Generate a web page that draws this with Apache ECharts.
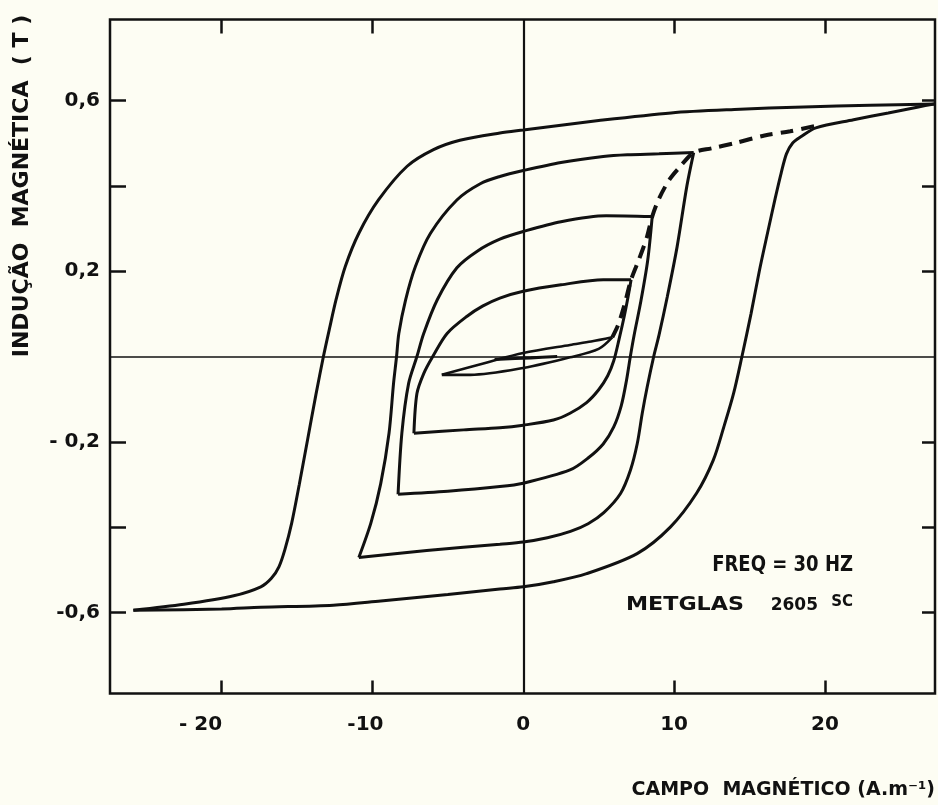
<!DOCTYPE html>
<html>
<head>
<meta charset="utf-8">
<script src="https://cdn.jsdelivr.net/npm/echarts@6/dist/echarts.min.js"></script>
<style>
  html, body { margin: 0; padding: 0; background: #fdfdf3; }
  #chart { width: 938px; height: 805px; }
</style>
</head>
<body>
<div id="chart"></div>
<script>
// ---- axis ticks / labels ----
const xLabelValues = [-20, -10, 0, 10, 20];
const xTickLabels = ['- 20', '-10', '0', '10', '20'];
const xTickValues = [-20, -10, 10, 20];
const yTickValues = [-0.6, -0.4, -0.2, 0.2, 0.4, 0.6];
const yLabelValues = [-0.6, -0.2, 0.2, 0.6];
const yTickLabels = ['-0,6', '- 0,2', '0,2', '0,6'];

// ---- hysteresis loops (H in A/m, B in T) ----
const outerDescending = [[27.25,0.592],[23,0.589],[18.6,0.585],[14,0.579],[9.8,0.571],[5,0.553],[0,0.531],[-1.55,0.524],[-4.2,0.507],[-5.95,0.485],[-7.7,0.446],[-9.6,0.367],[-10.9,0.289],[-11.8,0.211],[-12.4,0.135],[-12.85,0.065],[-13.25,0.0],[-13.75,-0.09],[-14.3,-0.195],[-14.85,-0.3],[-15.35,-0.39],[-15.8,-0.452],[-16.2,-0.493],[-16.7,-0.52],[-17.4,-0.54],[-19.2,-0.561],[-22.5,-0.581],[-25.85,-0.595]];
const outerAscending = [[-25.85,-0.595],[-20,-0.592],[-17.4,-0.588],[-12.6,-0.583],[-9.45,-0.573],[-5,-0.558],[-1.55,-0.545],[0,-0.54],[2,-0.528],[4.2,-0.509],[7.55,-0.462],[9.75,-0.40],[11.5,-0.32],[12.6,-0.243],[13.3,-0.165],[13.95,-0.086],[14.5,0.0],[15.1,0.1],[15.65,0.2],[16.2,0.29],[16.7,0.37],[17.1,0.43],[17.45,0.475],[17.85,0.5],[18.4,0.515],[19.4,0.536],[21.9,0.555],[24.2,0.571],[26.2,0.585],[27.25,0.592]];

const loop2Descending = [[11.3,0.478],[9,0.475],[6.9,0.473],[5.3,0.469],[2.5,0.455],[0,0.436],[-1.55,0.422],[-2.85,0.405],[-4.4,0.367],[-6.15,0.289],[-7.15,0.211],[-7.8,0.133],[-8.25,0.054],[-8.4,0.0],[-8.6,-0.063],[-8.9,-0.18],[-9.45,-0.298],[-10.1,-0.39],[-10.9,-0.471]];
const loop2Ascending = [[-10.9,-0.471],[-6.4,-0.455],[-1.55,-0.44],[0,-0.435],[1.6,-0.425],[3.13,-0.41],[4.3,-0.392],[5.34,-0.366],[6.45,-0.321],[7.11,-0.266],[7.56,-0.204],[7.89,-0.133],[8.22,-0.071],[8.65,0.0],[9.0,0.05],[9.55,0.14],[10.2,0.257],[10.85,0.40],[11.3,0.478]];

const loop3Descending = [[8.55,0.328],[5.5,0.33],[2.5,0.316],[0,0.293],[-1.55,0.275],[-3.05,0.247],[-4.4,0.208],[-5.7,0.133],[-6.6,0.054],[-7.05,0.0],[-7.6,-0.063],[-8.05,-0.18],[-8.3,-0.323]];
const loop3Ascending = [[-8.3,-0.323],[-5,-0.316],[-1.55,-0.305],[0,-0.297],[3.1,-0.266],[4.3,-0.238],[5.3,-0.205],[6.0,-0.165],[6.5,-0.115],[6.85,-0.055],[7.1,0.0],[7.35,0.05],[7.8,0.13],[8.25,0.225],[8.55,0.328]];

const loop4Descending = [[7.15,0.18],[5.3,0.18],[2.5,0.168],[0,0.153],[-1.55,0.137],[-2.7,0.118],[-3.7,0.095],[-5.05,0.054],[-6.0,0.0],[-6.6,-0.04],[-7.05,-0.087],[-7.25,-0.18]];
const loop4Ascending = [[-7.25,-0.18],[-3.95,-0.172],[-1.55,-0.167],[0,-0.161],[2.0,-0.149],[3.1,-0.133],[4.2,-0.108],[5.0,-0.078],[5.6,-0.045],[6.0,-0.01],[6.35,0.04],[6.7,0.095],[6.95,0.14],[7.15,0.18]];

const loop5Descending = [[5.9,0.045],[4.5,0.035],[3.1,0.027],[0,0.008],[-2.4,-0.014],[-5.4,-0.043]];
const loop5Ascending = [[-5.4,-0.043],[-3.5,-0.043],[0,-0.027],[3.1,-0.002],[5.0,0.018],[5.9,0.045]];
const loop6 = [[-1.9,-0.007],[0.5,-0.003],[2.25,0.0]];

const initialCurve = [[5.9,0.045],[6.3,0.075],[6.7,0.12],[7.15,0.18],[7.7,0.23],[8.2,0.28],[8.55,0.328],[9.0,0.37],[9.7,0.415],[10.4,0.445],[11.3,0.478],[12.5,0.488],[14,0.5],[16,0.518],[17.7,0.528],[19.4,0.541]];

// ---- chart ----
const INK = '#111111';
const FONT = 'DejaVu Sans';
const chart = echarts.init(document.getElementById('chart'), null, { renderer: 'canvas' });

function branch(data, width) {
  return {
    type: 'line', data: data, smooth: 0.3, symbol: 'none', showSymbol: false,
    lineStyle: { color: INK, width: width || 3 }, silent: true, z: 3
  };
}

const series = [
  branch(outerDescending), branch(outerAscending),
  branch(loop2Descending), branch(loop2Ascending),
  branch(loop3Descending), branch(loop3Ascending),
  branch(loop4Descending), branch(loop4Ascending),
  branch(loop5Descending, 2.6), branch(loop5Ascending, 2.6),
  branch(loop6, 3.2),
  {
    type: 'line', data: initialCurve, smooth: 0.3, symbol: 'none', silent: true, z: 2,
    lineStyle: { color: INK, width: 4, type: [13, 8] }
  }
];
series[0].markLine = {
  silent: true, symbol: ['none', 'none'], label: { show: false }, animation: false,
  data: [
    { xAxis: 0, lineStyle: { color: INK, width: 2.2, type: 'solid' } },
    { yAxis: 0, lineStyle: { color: INK, width: 1.6, type: 'solid' } }
  ]
};

function tickStyle(len, vals) {
  return { show: true, inside: true, length: len, customValues: vals, lineStyle: { color: INK, width: 2.5 } };
}

const option = {
  backgroundColor: '#fdfdf3',
  animation: false,
  grid: { left: 110, right: 3, top: 19.5, bottom: 111.5, show: true, borderColor: INK, borderWidth: 2.5, backgroundColor: 'transparent' },
  xAxis: [
    {
      type: 'value', position: 'bottom', min: -27.4, max: 27.3,
      axisLine: { show: false, onZero: false }, splitLine: { show: false },
      axisTick: tickStyle(13, xTickValues),
      axisLabel: {
        show: true, customValues: xLabelValues, margin: 21,
        formatter: function (v) {
          const i = xLabelValues.indexOf(v);
          let pad = '';
          if (v === -20) pad = '{p|}';
          else if (v === -10) pad = '{q|}';
          return '{a|' + xTickLabels[i] + '}' + pad;
        },
        rich: {
          a: { fontFamily: FONT, fontWeight: 'bold', fontSize: 20, color: INK },
          p: { width: 42 },
          q: { width: 14 }
        }
      }
    },
    {
      type: 'value', position: 'top', min: -27.4, max: 27.3,
      axisLine: { show: false, onZero: false }, splitLine: { show: false }, axisLabel: { show: false },
      axisTick: tickStyle(14, xTickValues)
    }
  ],
  yAxis: [
    {
      type: 'value', position: 'left', min: -0.79, max: 0.79,
      axisLine: { show: false, onZero: false }, splitLine: { show: false },
      axisTick: tickStyle(16, yTickValues),
      axisLabel: {
        show: true, customValues: yLabelValues, margin: 10,
        fontFamily: FONT, fontWeight: 'bold', fontSize: 20, color: INK,
        formatter: function (v) {
          let best = 0;
          yLabelValues.forEach(function (t, i) { if (Math.abs(t - v) < Math.abs(yLabelValues[best] - v)) best = i; });
          return yTickLabels[best];
        }
      }
    },
    {
      type: 'value', position: 'right', min: -0.79, max: 0.79,
      axisLine: { show: false, onZero: false }, splitLine: { show: false }, axisLabel: { show: false },
      axisTick: tickStyle(13, yTickValues)
    }
  ],
  graphic: [
    {
      type: 'text', x: 22, y: 186, rotation: Math.PI / 2, silent: true,
      style: { text: 'INDUÇÃO  MAGNÉTICA  ( T )', fill: INK, font: 'bold 22px "DejaVu Sans"', align: 'center', verticalAlign: 'middle' }
    },
    {
      type: 'text', x: 935, y: 790, silent: true,
      style: { text: 'CAMPO  MAGNÉTICO (A.m⁻¹)', fill: INK, font: 'bold 19px "DejaVu Sans"', align: 'right', verticalAlign: 'middle' }
    },
    {
      type: 'text', x: 853, y: 566, silent: true, scaleY: 1.15,
      style: { text: 'FREQ = 30 HZ', fill: INK, font: 'bold 18px "DejaVu Sans"', align: 'right', verticalAlign: 'middle' }
    },
    {
      type: 'text', x: 626, y: 605, silent: true, scaleX: 1.11,
      style: { text: 'METGLAS', fill: INK, font: 'bold 20px "DejaVu Sans"', align: 'left', verticalAlign: 'middle' }
    },
    {
      type: 'text', x: 818, y: 606, silent: true,
      style: { text: '2605', fill: INK, font: 'bold 17px "DejaVu Sans"', align: 'right', verticalAlign: 'middle' }
    },
    {
      type: 'text', x: 853, y: 602, silent: true,
      style: { text: 'SC', fill: INK, font: 'bold 15px "DejaVu Sans"', align: 'right', verticalAlign: 'middle' }
    }
  ],
  series: series
};
chart.setOption(option);
</script>
</body>
</html>
